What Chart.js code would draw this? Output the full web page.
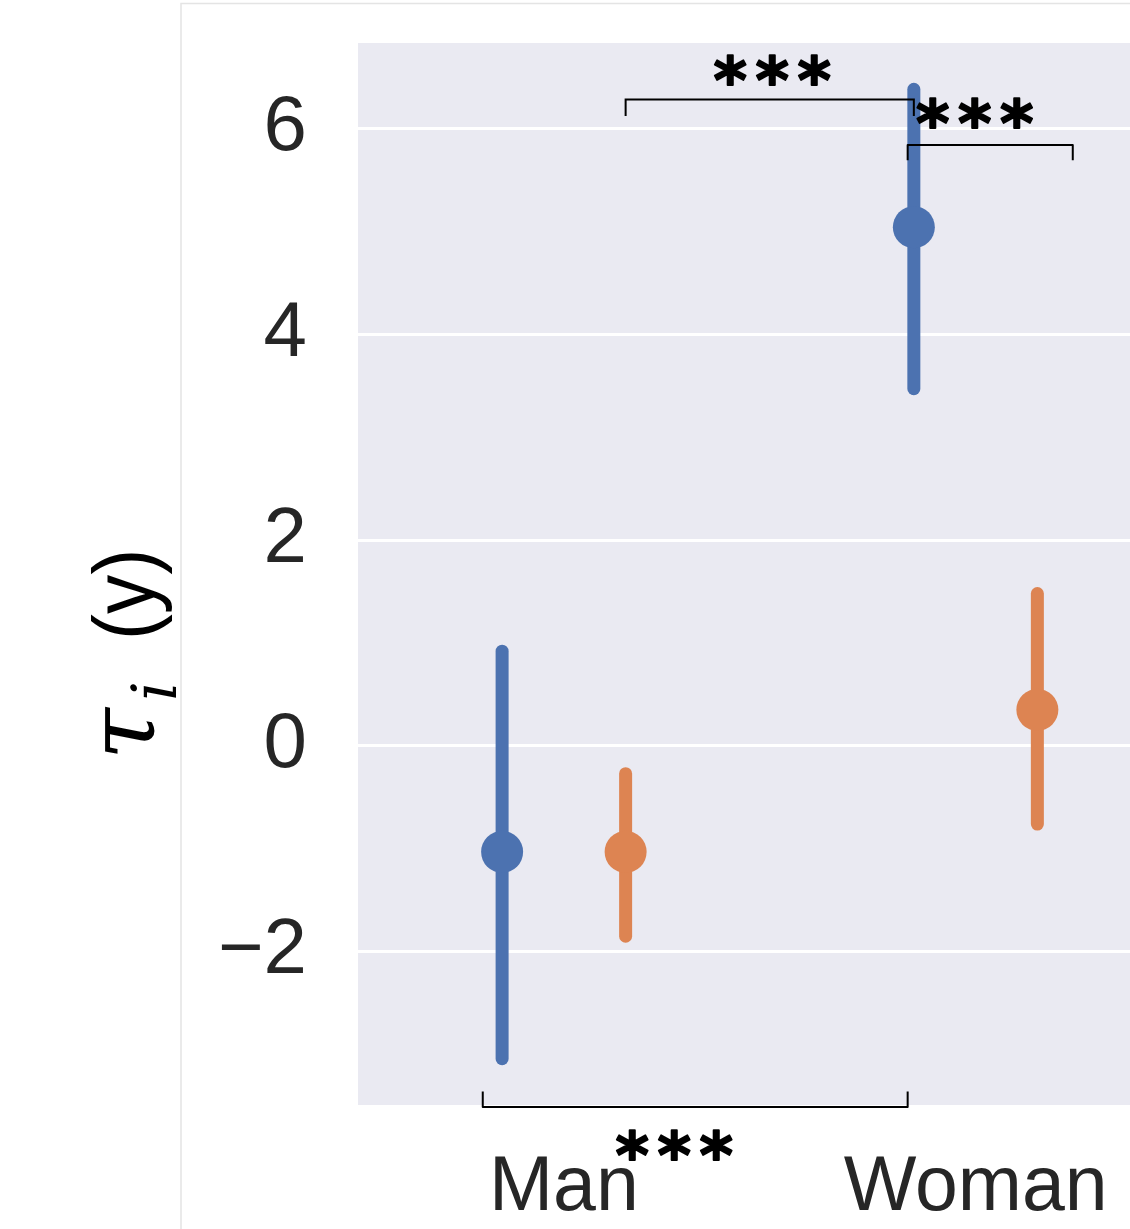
<!DOCTYPE html>
<html>
<head>
<meta charset="utf-8">
<script src="https://cdn.jsdelivr.net/npm/chart.js@4/dist/chart.umd.min.js"></script>
<style>
  html, body { margin: 0; padding: 0; background: #ffffff; overflow: hidden; }
  #wrap { width: 1130px; height: 1229px; overflow: hidden; position: relative; }
  #c { position: absolute; left: 0; top: 0; }
</style>
</head>
<body>
<div id="wrap"><canvas id="c" width="1160" height="1229"></canvas></div>
<script>
// ---- data ----
const categories = ['Man', 'Woman'];
const blueMean   = [-1.03, 5.04];
const blueLow    = [-3.04, 3.47];
const blueHigh   = [0.92, 6.38];
const orangeMean = [-1.03, 0.35];
const orangeLow  = [-1.85, -0.76];
const orangeHigh = [-0.27, 1.48];
const yTicks = [-2, 0, 2, 4, 6];

// significance brackets (data units)
const bracketStart = [0.15, 0.835, -0.197];
const bracketEnd   = [0.85, 1.236, 0.835];
const bracketLevel = [6.28, 5.84, -3.51];
const bracketTip   = [6.12, 5.69, -3.36];
const bracketText  = ['***', '***', '***'];
const bracketTextX = [0.506, 0.998, 0.268];
const bracketTextY = [6.58, 6.16, -3.87];

// ---- styling constants ----
const DODGE = 0.15;
const BLUE = '#4c72b0';
const ORANGE = '#dd8452';

function errorBars(means, lows, highs, offset, color) {
  return means.map((m, i) => ({
    type: 'line',
    data: [{x: i + offset, y: lows[i]}, {x: i + offset, y: highs[i]}],
    borderColor: color,
    borderWidth: 13,
    borderCapStyle: 'round',
    pointRadius: 0,
    showLine: true,
    order: 2
  }));
}
function meanPoints(means, offset, color) {
  return {
    type: 'scatter',
    data: means.map((m, i) => ({x: i + offset, y: m})),
    backgroundColor: color,
    borderWidth: 0,
    pointRadius: 21,
    pointHoverRadius: 21,
    order: 1
  };
}

const datasets = [
  ...errorBars(blueMean, blueLow, blueHigh, -DODGE, BLUE),
  ...errorBars(orangeMean, orangeLow, orangeHigh, DODGE, ORANGE),
  meanPoints(blueMean, -DODGE, BLUE),
  meanPoints(orangeMean, DODGE, ORANGE)
];

const bgPlugin = {
  id: 'bg',
  beforeDraw(chart) {
    const c = chart.ctx, a = chart.chartArea;
    c.save();
    c.fillStyle = '#ffffff';
    c.fillRect(0, 0, chart.width, chart.height);
    c.strokeStyle = '#e4e4e4';
    c.lineWidth = 1.5;
    c.beginPath();
    c.moveTo(181, chart.height); c.lineTo(181, 3.5); c.lineTo(chart.width, 3.5);
    c.stroke();
    c.fillStyle = '#eaeaf2';
    c.fillRect(a.left, a.top, a.right - a.left, a.bottom - a.top);
    c.restore();
  }
};

const bracketPlugin = {
  id: 'brackets',
  afterDraw(chart) {
    const c = chart.ctx, xs = chart.scales.x, ys = chart.scales.y;
    c.save();
    for (let i = 0; i < bracketStart.length; i++) {
      const x1 = xs.getPixelForValue(bracketStart[i]);
      const x2 = xs.getPixelForValue(bracketEnd[i]);
      const yl = ys.getPixelForValue(bracketLevel[i]);
      const yt = ys.getPixelForValue(bracketTip[i]);
      c.strokeStyle = '#000';
      c.lineWidth = 2;
      c.beginPath();
      c.moveTo(x1, yt); c.lineTo(x1, yl); c.lineTo(x2, yl); c.lineTo(x2, yt);
      c.stroke();
      const tx = xs.getPixelForValue(bracketTextX[i]);
      const ty = ys.getPixelForValue(bracketTextY[i]);
      c.fillStyle = '#000';
      c.font = 'bold 64px "DejaVu Sans"';
      c.textAlign = 'center';
      c.textBaseline = 'alphabetic';
      c.lineWidth = 1.8;
      c.lineJoin = 'round';
      const chars = bracketText[i].split('');
      const sp = 42;
      chars.forEach((ch, k) => {
        const px = tx + (k - (chars.length - 1) / 2) * sp;
        c.fillText(ch, px, ty + 34);
        c.strokeText(ch, px, ty + 34);
      });
    }
    c.restore();
  }
};

const titlePlugin = {
  id: 'ytitle',
  afterDraw(chart) {
    const c = chart.ctx;
    c.save();
    c.translate(154, 760);
    c.rotate(-Math.PI / 2);
    c.fillStyle = '#000';
    c.textBaseline = 'alphabetic';
    c.textAlign = 'left';
    c.font = 'italic 94px "DejaVu Serif"';
    c.fillText('τ', 0, 0);
    c.font = 'italic 62px "DejaVu Serif"';
    c.fillText('i', 59, 22);
    c.save();
    c.scale(0.89, 1);
    c.font = '88px "Liberation Sans"';
    c.fillText('(y)', 120 / 0.89, 0);
    c.restore();
    c.restore();
  }
};

function zeroPad(s) {
  s.paddingLeft = 0; s.paddingRight = 0; s.paddingTop = 0; s.paddingBottom = 0;
}

const chart = new Chart(document.getElementById('c'), {
  type: 'scatter',
  data: { datasets },
  options: {
    responsive: false,
    animation: false,
    devicePixelRatio: 1,
    layout: { padding: { left: 181, top: 43, right: 30, bottom: 0 } },
    plugins: { legend: { display: false }, tooltip: { enabled: false } },
    scales: {
      x: {
        type: 'linear',
        min: -0.5,
        max: 1.375,
        afterBuildTicks: s => { s.ticks = categories.map((c, i) => ({ value: i })); },
        afterFit: s => { s.height = 124; zeroPad(s); },
        ticks: {
          callback: v => categories[v],
          font: { size: 77, family: 'Liberation Sans' },
          color: '#262626',
          padding: 38,
          maxRotation: 0,
          autoSkip: false
        },
        grid: { display: false, drawTicks: false },
        border: { display: false }
      },
      y: {
        type: 'linear',
        min: -3.49,
        max: 6.83,
        afterBuildTicks: s => { s.ticks = yTicks.map(v => ({ value: v })); },
        afterFit: s => { s.width = 177; zeroPad(s); },
        ticks: {
          callback: v => (v < 0 ? '\u2212' + Math.abs(v) : String(v)),
          font: { size: 78, family: 'Liberation Sans' },
          color: '#262626',
          padding: 51
        },
        grid: { color: '#ffffff', lineWidth: 3, drawTicks: false },
        border: { display: false }
      }
    }
  },
  plugins: [bgPlugin, bracketPlugin, titlePlugin]
});
</script>
</body>
</html>
